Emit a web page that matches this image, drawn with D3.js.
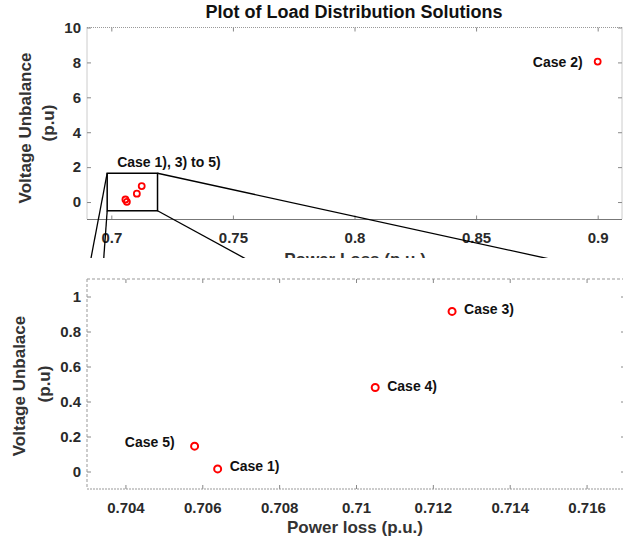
<!DOCTYPE html>
<html lang="en">
<head>
<meta charset="UTF-8">
<title>Plot of Load Distribution Solutions</title>
<script src="https://d3js.org/d3.v7.min.js"></script>
<style>
body { margin: 0; background: #fff; }
text { font-family: "Liberation Sans", Arial, sans-serif; font-weight: bold; }
</style>
</head>
<body>
<svg width="623" height="541"></svg>
<script>
// data
var cases = ["Case 1)", "Case 2)", "Case 3)", "Case 4)", "Case 5)"];
var powerLoss = [0.7064, 0.9, 0.7125, 0.7105, 0.7058];
var voltUnbalance = [0.015, 8.05, 0.915, 0.48, 0.145];

var topXTicks = [0.7, 0.75, 0.8, 0.85, 0.9];
var topYTicks = [0, 2, 4, 6, 8, 10];
var zoomXTicks = [0.704, 0.706, 0.708, 0.71, 0.712, 0.714, 0.716];
var zoomYTicks = [0, 0.2, 0.4, 0.6, 0.8, 1];

// zoom box drawn in the upper plot
var zoomBoxX = [0.6983, 0.719];
var zoomBoxY = [-0.5, 1.65];

var points = cases.map((c, i) => ({ name: c, x: powerLoss[i], y: voltUnbalance[i] }));

var svg = d3.select("svg");
svg.append("rect").attr("width", 623).attr("height", 541).attr("fill", "#fff");

// ---------- upper plot ----------
var x1 = d3.scaleLinear().domain([0.69, 0.91]).range([87, 622]);
var y1 = d3.scaleLinear().domain([-1, 10]).range([219.5, 27.5]);

function frame(g, x, y, styles) {
    var [l, r] = x.range(), [b, t] = y.range();
    g.append("line").attr("x1", l).attr("x2", r).attr("y1", b).attr("y2", b)
        .attr("stroke", styles.bottom[0]).attr("stroke-dasharray", styles.bottom[1]);
    g.append("line").attr("x1", l).attr("x2", r).attr("y1", t).attr("y2", t)
        .attr("stroke", styles.top[0]).attr("stroke-dasharray", styles.top[1]);
    g.append("line").attr("x1", l).attr("x2", l).attr("y1", t).attr("y2", b)
        .attr("stroke", styles.side[0]).attr("stroke-dasharray", styles.side[1]);
    g.append("line").attr("x1", r).attr("x2", r).attr("y1", t).attr("y2", b)
        .attr("stroke", styles.side[0]).attr("stroke-dasharray", styles.side[1]);
}

function axes(g, x, y, xt, yt, xfmt, yfmt, xpad) {
    var [l, r] = x.range(), [b, t] = y.range();
    g.append("g").attr("transform", `translate(0,${b})`)
        .call(d3.axisBottom(x).tickValues(xt).tickFormat(xfmt).tickSizeInner(-4).tickSizeOuter(0).tickPadding(xpad))
        .call(a => a.select(".domain").remove());
    g.append("g").attr("transform", `translate(0,${t})`)
        .call(d3.axisTop(x).tickValues(xt).tickFormat("").tickSizeInner(-4).tickSizeOuter(0))
        .call(a => a.select(".domain").remove());
    g.append("g").attr("transform", `translate(${l},0)`)
        .call(d3.axisLeft(y).tickValues(yt).tickFormat(yfmt).tickSizeInner(-4).tickSizeOuter(0).tickPadding(6))
        .call(a => a.select(".domain").remove());
    g.append("g").attr("transform", `translate(${r},0)`)
        .call(d3.axisRight(y).tickValues(yt).tickFormat("").tickSizeInner(-4).tickSizeOuter(0))
        .call(a => a.select(".domain").remove());
    g.selectAll(".tick line").attr("stroke", "#888");
    g.selectAll(".tick text").attr("font-size", 15).attr("fill", "#2a2a2a")
        .style("font-family", '"Liberation Sans", Arial, sans-serif').style("font-weight", "bold");
}

var upper = svg.append("g");
axes(upper, x1, y1, topXTicks, topYTicks, d => d, d => d, 13);
frame(upper, x1, y1, { bottom: ["#777", null], top: ["#999", "1,1"], side: ["#999", "1,1"] });

upper.append("text").attr("x", 354).attr("y", 18).attr("text-anchor", "middle")
    .attr("font-size", 18).attr("fill", "#111").text("Plot of Load Distribution Solutions");

upper.append("text").attr("transform", "translate(31,128) rotate(-90)").attr("text-anchor", "middle")
    .attr("font-size", 17).attr("fill", "#333").text("Voltage Unbalance");
upper.append("text").attr("transform", "translate(54,123) rotate(-90)").attr("text-anchor", "middle")
    .attr("font-size", 17).attr("fill", "#333").text("(p.u)");
upper.append("text").attr("x", 355).attr("y", 265).attr("text-anchor", "middle")
    .attr("font-size", 17).attr("fill", "#333").text("Power Loss (p.u.)");

upper.selectAll("circle").data(points).enter().append("circle")
    .attr("cx", d => x1(d.x)).attr("cy", d => y1(d.y)).attr("r", 3)
    .attr("fill", "none").attr("stroke", "#f00").attr("stroke-width", 1.8);

upper.append("text").attr("x", x1(0.9) - 15).attr("y", y1(8.05) + 5).attr("text-anchor", "end")
    .attr("font-size", 14).attr("fill", "#111").text(cases[1]);

var bx = [x1(zoomBoxX[0]), x1(zoomBoxX[1])], by = [y1(zoomBoxY[1]), y1(zoomBoxY[0])];
upper.append("rect").attr("x", bx[0]).attr("y", by[0]).attr("width", bx[1] - bx[0]).attr("height", by[1] - by[0])
    .attr("fill", "none").attr("stroke", "#000").attr("stroke-width", 1.5);
upper.append("text").attr("x", bx[0] + 10).attr("y", by[0] - 6)
    .attr("font-size", 14).attr("fill", "#111").text("Case 1), 3) to 5)");

// ---------- lower (zoomed) plot ----------
var x2 = d3.scaleLinear().domain([0.703, 0.717]).range([87, 625]);
var y2 = d3.scaleLinear().domain([-0.1, 1.1]).range([489, 279]);

// connector lines from zoom box toward the lower plot
var connectRight = [0.71742, 0.71812];
var connectors = [
    [bx[0], by[0], x2(0.703), y2(1.1)],
    [bx[0], by[1], x2(0.703), y2(-0.1)],
    [bx[1], by[0], x2(connectRight[0]), y2(1.1)],
    [bx[1], by[1], x2(connectRight[1]), y2(-0.1)]
];
svg.selectAll(".conn").data(connectors).enter().append("line").attr("class", "conn")
    .attr("x1", d => d[0]).attr("y1", d => d[1]).attr("x2", d => d[2]).attr("y2", d => d[3])
    .attr("stroke", "#000").attr("stroke-width", 1.3);

// lower figure area covers what lies beneath it
svg.append("rect").attr("x", 0).attr("y", 258).attr("width", 623).attr("height", 283).attr("fill", "#fff");

var lower = svg.append("g");
axes(lower, x2, y2, zoomXTicks, zoomYTicks, d => d3.format("")(+d.toFixed(3)), d => d, 13.5);
frame(lower, x2, y2, { bottom: ["#999", "2,1"], top: ["#999", "3,2"], side: ["#999", "3,2"] });

lower.append("text").attr("transform", "translate(25,386) rotate(-90)").attr("text-anchor", "middle")
    .attr("font-size", 17).attr("fill", "#333").text("Voltage Unbalace");
lower.append("text").attr("transform", "translate(50,384) rotate(-90)").attr("text-anchor", "middle")
    .attr("font-size", 17).attr("fill", "#333").text("(p.u)");
lower.append("text").attr("x", 355).attr("y", 533).attr("text-anchor", "middle")
    .attr("font-size", 17).attr("fill", "#333").text("Power loss (p.u.)");

var zoomed = points.filter(d => d.x < 0.8);
lower.selectAll("circle").data(zoomed).enter().append("circle")
    .attr("cx", d => x2(d.x)).attr("cy", d => y2(d.y)).attr("r", 3.5)
    .attr("fill", "none").attr("stroke", "#f00").attr("stroke-width", 2);

// label offsets relative to each point
var labelPos = {
    "Case 1)": [12, 2, "start"],
    "Case 3)": [12, 3, "start"],
    "Case 4)": [12, 3, "start"],
    "Case 5)": [-20, 1, "end"]
};
lower.selectAll(".lbl").data(zoomed).enter().append("text").attr("class", "lbl")
    .attr("x", d => x2(d.x) + labelPos[d.name][0]).attr("y", d => y2(d.y) + labelPos[d.name][1])
    .attr("text-anchor", d => labelPos[d.name][2])
    .attr("font-size", 14).attr("fill", "#111").text(d => d.name);
</script>
</body>
</html>
